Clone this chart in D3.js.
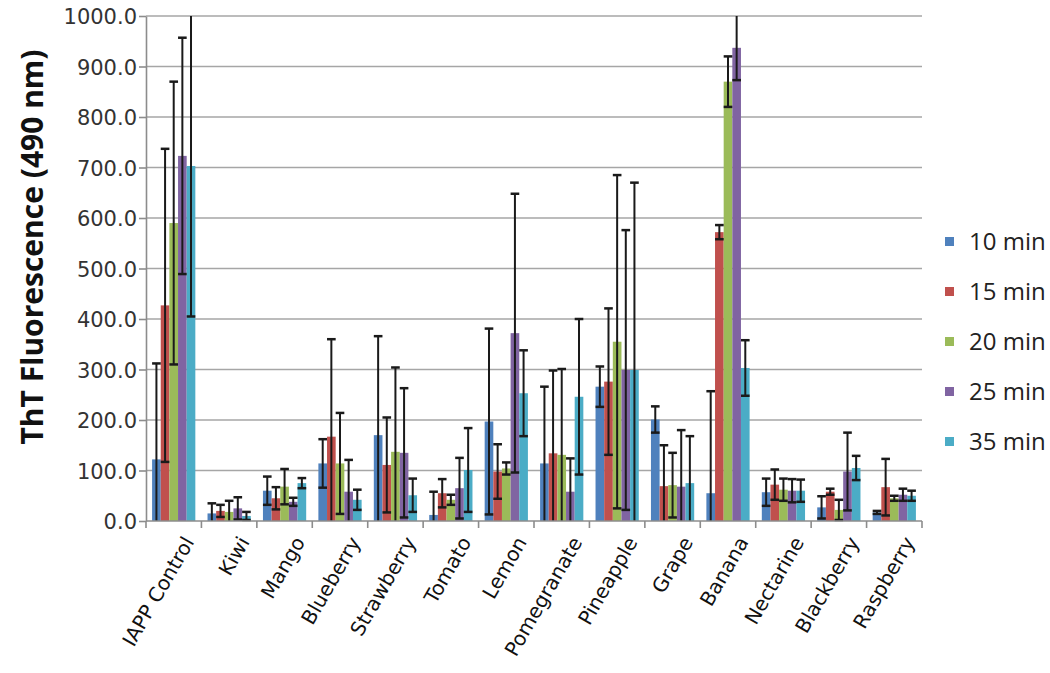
<!DOCTYPE html>
<html><head><meta charset="utf-8">
<script src="https://cdn.jsdelivr.net/npm/d3@7"></script>
<style>body{margin:0;background:#fff}svg{display:block}</style>
</head><body><svg id="c" width="1050" height="673"></svg>
<script>
const categories = ["IAPP Control","Kiwi","Mango","Blueberry","Strawberry","Tomato","Lemon","Pomegranate","Pineapple","Grape","Banana","Nectarine","Blackberry","Raspberry"];
const seriesNames = ["10 min","15 min","20 min","25 min","35 min"];
const seriesColors = ["#4F81BD","#C0504D","#9BBB59","#8064A2","#4BACC6"];
const v10 = [122, 15, 60, 114, 170, 12, 197, 114, 266, 201, 55, 57, 27, 17];
const v15 = [427, 20, 45, 167, 111, 55, 98, 134, 276, 69, 572, 72, 58, 67];
const v20 = [590, 18, 68, 114, 137, 42, 104, 131, 355, 71, 870, 62, 22, 45];
const v25 = [723, 25, 38, 58, 135, 65, 372, 58, 299, 68, 937, 60, 98, 52];
const v35 = [703, 10, 75, 42, 51, 101, 253, 246, 299, 75, 303, 60, 105, 50];
const e10 = [190, 20, 28, 48, 196, 46, 184, 152, 40, 26, 202, 27, 22, 3];
const e15 = [310, 12, 22, 193, 94, 28, 54, 164, 145, 81, 14, 30, 6, 56];
const e20 = [280, 22, 35, 100, 167, 10, 12, 170, 330, 64, 50, 22, 20, 5];
const e25 = [234, 22, 8, 63, 128, 60, 276, 66, 277, 112, 64, 23, 77, 12];
const e35 = [298, 8, 10, 20, 33, 83, 85, 154, 371, 93, 55, 22, 24, 10];
const yTicks = [0,100,200,300,400,500,600,700,800,900,1000];

const values = [v10, v15, v20, v25, v35];
const errors = [e10, e15, e20, e25, e35];

const svg = d3.select("#c");
const L = 146, R = 922, T = 16, B = 521;
const x0 = d3.scaleBand().domain(categories).range([L, R]).paddingInner(0.22).paddingOuter(0.11);
const x1 = d3.scaleBand().domain(seriesNames).range([0, x0.bandwidth()]);
const y = d3.scaleLinear().domain([0, 1000]).range([B, T]);

// gridlines
svg.append("g").selectAll("line").data(yTicks.filter(d => d > 0)).join("line")
  .attr("x1", L).attr("x2", R).attr("y1", d => y(d)).attr("y2", d => y(d))
  .attr("stroke", "#a6a6a6").attr("stroke-width", 1.6);

// y axis
const yAxis = svg.append("g").attr("transform", `translate(${L},0)`)
  .call(d3.axisLeft(y).tickValues(yTicks).tickFormat(d3.format(".1f")).tickSize(7).tickSizeOuter(0));
yAxis.select(".domain").attr("stroke", "#8c8c8c").attr("stroke-width", 1.6);
yAxis.selectAll(".tick line").attr("stroke", "#8c8c8c").attr("stroke-width", 1.6);
yAxis.selectAll(".tick text").attr("font-family", "DejaVu Sans").attr("font-size", 21)
  .attr("fill", "#333").attr("x", -9).attr("dy", "0.36em");

// bars
const barsG = svg.append("g");
seriesNames.forEach((s, si) => {
  barsG.append("g").selectAll("rect").data(categories).join("rect")
    .attr("x", (c) => x0(c) + x1(s))
    .attr("width", x1.bandwidth())
    .attr("y", (c, i) => y(values[si][i]))
    .attr("height", (c, i) => B - y(values[si][i]))
    .attr("fill", seriesColors[si]);
});

// error bars
const clip = v => Math.max(0, Math.min(1000, v));
const errG = svg.append("g").attr("stroke", "#1a1a1a");
seriesNames.forEach((s, si) => {
  categories.forEach((c, i) => {
    const cx = x0(c) + x1(s) + x1.bandwidth() / 2;
    const hi = values[si][i] + errors[si][i], lo = values[si][i] - errors[si][i];
    errG.append("line").attr("x1", cx).attr("x2", cx)
      .attr("y1", y(clip(hi))).attr("y2", y(clip(lo))).attr("stroke-width", 2);
    const cw = x1.bandwidth() / 2;
    if (hi <= 1000) errG.append("line").attr("x1", cx - cw).attr("x2", cx + cw)
      .attr("y1", y(hi)).attr("y2", y(hi)).attr("stroke-width", 2.5);
    if (lo >= 0) errG.append("line").attr("x1", cx - cw).attr("x2", cx + cw)
      .attr("y1", y(lo)).attr("y2", y(lo)).attr("stroke-width", 2.5);
  });
});

// x axis
const xAxis = svg.append("g").attr("transform", `translate(0,${B})`);
xAxis.append("line").attr("x1", L).attr("x2", R).attr("stroke", "#8c8c8c").attr("stroke-width", 1.6);
const bounds = d3.range(categories.length + 1).map(i => L + i * x0.step());
xAxis.selectAll("line.tk").data(bounds).join("line").attr("class", "tk")
  .attr("x1", d => d).attr("x2", d => d).attr("y1", 0).attr("y2", 7)
  .attr("stroke", "#8c8c8c").attr("stroke-width", 1.6);
xAxis.selectAll("text").data(categories).join("text")
  .attr("transform", c => `translate(${x0(c) + x0.bandwidth() / 2 + 9},14) rotate(-60)`)
  .attr("text-anchor", "end").attr("dy", "0.7em")
  .attr("font-family", "DejaVu Sans").attr("font-size", 20).attr("fill", "#111")
  .text(c => c);

// y title
svg.append("text")
  .attr("transform", `translate(43,247) rotate(-90)`)
  .attr("text-anchor", "middle")
  .attr("font-family", "Open Sans").attr("font-weight", 700).attr("font-size", 30).attr("fill", "#111")
  .text("ThT Fluorescence (490 nm)");

// legend
const lg = svg.append("g").attr("transform", "translate(945,242)");
seriesNames.forEach((s, i) => {
  const g = lg.append("g").attr("transform", `translate(0,${i * 50})`);
  g.append("rect").attr("x", 0).attr("y", -5).attr("width", 9).attr("height", 9).attr("fill", seriesColors[i]);
  g.append("text").attr("x", 24).attr("y", 0).attr("dy", "0.35em")
    .attr("font-family", "Open Sans").attr("font-size", 24).attr("fill", "#222").text(s);
});
</script></body></html>
